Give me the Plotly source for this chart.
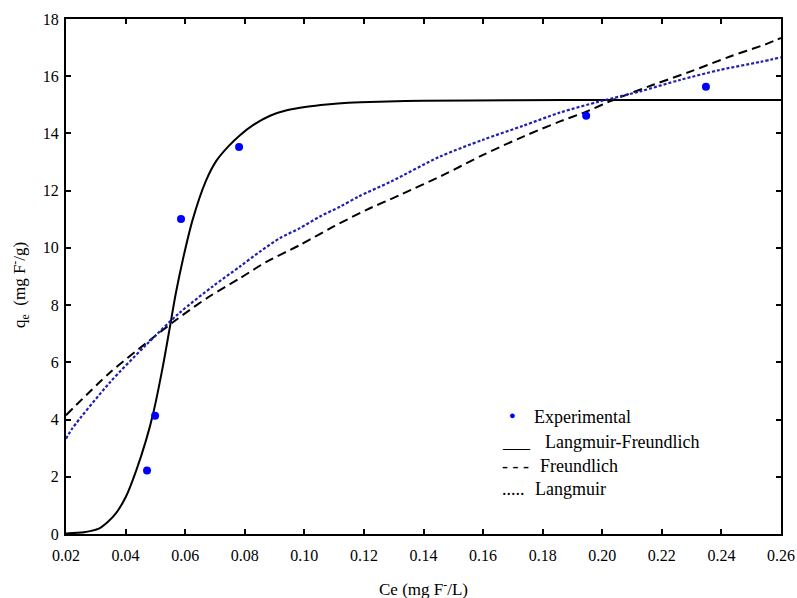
import plotly.graph_objects as go

# Experimental data
exp_ce = [0.0472, 0.0499, 0.0586, 0.0781, 0.1946, 0.2348]
exp_qe = [2.22, 4.13, 11.01, 13.53, 14.62, 15.63]

# Langmuir-Freundlich fit (solid)
lf_ce = [0.020, 0.026, 0.0285, 0.0312, 0.034, 0.0368, 0.0401, 0.0435, 0.0469, 0.0493,
         0.0525, 0.0547, 0.0569, 0.0592, 0.0625, 0.067, 0.0705, 0.0745, 0.0784, 0.0829,
         0.0885, 0.0941, 0.1008, 0.1075, 0.1148, 0.125, 0.140, 0.170, 0.200, 0.260]
lf_qe = [0.02, 0.06, 0.11, 0.20, 0.42, 0.73, 1.30, 2.20, 3.29, 4.23,
         5.85, 7.13, 8.43, 9.58, 10.98, 12.35, 13.05, 13.55, 13.94, 14.30,
         14.62, 14.81, 14.93, 15.01, 15.07, 15.11, 15.14, 15.16, 15.17, 15.17]

# Freundlich fit (dashed)
fr_ce = [0.020, 0.0345, 0.0469, 0.0569, 0.0681, 0.0784, 0.0874, 0.0985, 0.1097, 0.1209,
         0.1319, 0.1467, 0.1600, 0.1735, 0.1858, 0.1948, 0.2037, 0.2171, 0.2295, 0.2429,
         0.2552, 0.2600]
fr_qe = [4.15, 5.62, 6.67, 7.48, 8.30, 8.94, 9.52, 10.10, 10.74, 11.33,
         11.84, 12.55, 13.25, 13.89, 14.42, 14.77, 15.17, 15.70, 16.16, 16.69,
         17.13, 17.34]

# Langmuir fit (dotted)
la_ce = [0.020, 0.0222, 0.0345, 0.0469, 0.0580, 0.0692, 0.0784, 0.0851, 0.0918, 0.0985,
         0.1053, 0.1120, 0.1181, 0.1291, 0.1455, 0.1600, 0.1735, 0.1858, 0.1992, 0.2127,
         0.2261, 0.2395, 0.2530, 0.2600]
la_qe = [3.33, 3.70, 5.27, 6.61, 7.72, 8.65, 9.35, 9.87, 10.34, 10.69,
         11.10, 11.44, 11.79, 12.32, 13.19, 13.78, 14.27, 14.73, 15.12, 15.47,
         15.87, 16.22, 16.50, 16.66]

x_ticks = [0.02, 0.04, 0.06, 0.08, 0.10, 0.12, 0.14, 0.16, 0.18, 0.20, 0.22, 0.24, 0.26]
y_ticks = [0, 2, 4, 6, 8, 10, 12, 14, 16, 18]

legend_symbols = ["", "___", "- - -", "....."]
legend_labels = ["Experimental", "Langmuir-Freundlich", "Freundlich", "Langmuir"]

FONT = "Liberation Serif"

# plot area in window pixels
PL, PR, PT, PB = 66, 781, 19, 534
W, H = 797, 598


def px(x):
    return (x - PL) / (PR - PL)


def py(y):
    return (PB - y) / (PB - PT)


fig = go.Figure()
fig.add_trace(go.Scatter(x=lf_ce, y=lf_qe, mode="lines",
                         line=dict(color="black", width=2, shape="spline", smoothing=0.8),
                         name="Langmuir-Freundlich", showlegend=False))
fig.add_trace(go.Scatter(x=fr_ce, y=fr_qe, mode="lines",
                         line=dict(color="black", width=2, dash="9px,5px", shape="spline", smoothing=0.8),
                         name="Freundlich", showlegend=False))
fig.add_trace(go.Scatter(x=la_ce, y=la_qe, mode="lines",
                         line=dict(color="#1e1eb4", width=2.2, dash="3px,2px", shape="spline", smoothing=0.8),
                         name="Langmuir", showlegend=False))
fig.add_trace(go.Scatter(x=exp_ce, y=exp_qe, mode="markers",
                         marker=dict(color="#0000ff", size=8), name="Experimental", showlegend=False))

# Legend drawn as text
fig.add_annotation(xref="paper", yref="paper", x=px(512), y=py(415),
                   text="●", showarrow=False, font=dict(color="#0000ff", size=11, family=FONT),
                   xanchor="center", yanchor="middle")
label_x = [532, 543, 538, 533]
row_y = [417, 442, 466, 489]
for sym, lab, lx, ry in zip(legend_symbols, legend_labels, label_x, row_y):
    if sym:
        fig.add_annotation(xref="paper", yref="paper", x=px(500), y=py(ry),
                           text=sym, showarrow=False, font=dict(color="black", size=18, family=FONT),
                           xanchor="left", yanchor="middle")
    fig.add_annotation(xref="paper", yref="paper", x=px(lx), y=py(ry),
                       text=lab, showarrow=False, font=dict(color="black", size=18, family=FONT),
                       xanchor="left", yanchor="middle")

# Axis titles
fig.add_annotation(xref="paper", yref="paper", x=px(423), y=py(588),
                   text="Ce (mg F<sup>-</sup>/L)", showarrow=False,
                   font=dict(color="black", size=17, family=FONT), xanchor="center", yanchor="middle")
fig.add_annotation(xref="paper", yref="paper", x=px(19), y=py(285),
                   text="q<sub>e</sub>  (mg F<sup>-</sup>/g)", showarrow=False, textangle=-90,
                   font=dict(color="black", size=17, family=FONT), xanchor="center", yanchor="middle")

axis_common = dict(showline=True, linecolor="black", linewidth=2, mirror="ticks",
                   ticks="inside", ticklen=5, tickwidth=2, tickcolor="black",
                   showgrid=False, zeroline=False, automargin=False,
                   tickfont=dict(family=FONT, size=16, color="black"))

fig.update_xaxes(range=[0.02, 0.26], tickvals=x_ticks, ticktext=[f"{v:.2f}" for v in x_ticks],
                 ticklabelstandoff=6, **axis_common)
fig.update_yaxes(range=[0, 18], tickvals=y_ticks, ticktext=[str(v) for v in y_ticks],
                 ticklabelstandoff=2, **axis_common)

fig.update_layout(width=W, height=H,
                  margin=dict(l=PL, r=W - PR, t=PT, b=H - PB),
                  plot_bgcolor="white", paper_bgcolor="white",
                  font=dict(family=FONT, color="black"))

fig.write_html("out.html",
               config={"displayModeBar": False, "staticPlot": True},
               post_script="document.body.style.margin='0';document.body.style.overflow='hidden';")
